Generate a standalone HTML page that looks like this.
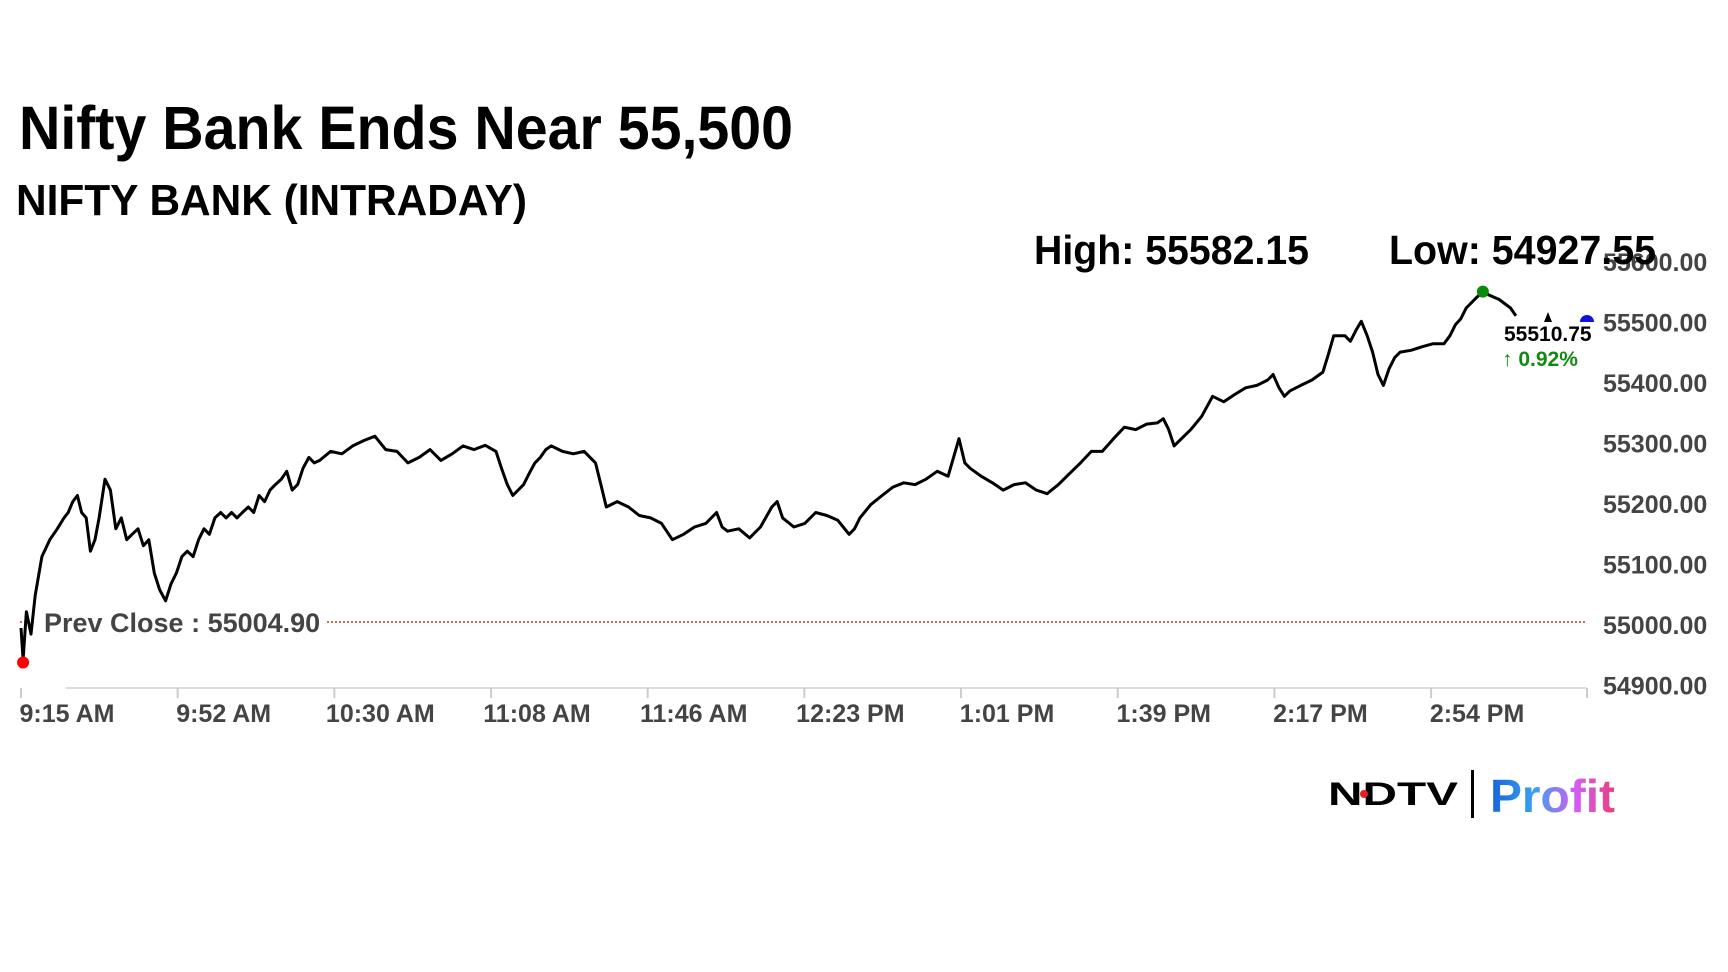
<!DOCTYPE html>
<html><head><meta charset="utf-8"><style>
html,body{margin:0;padding:0;background:#fff;}
svg{display:block;font-family:"Liberation Sans",sans-serif;}
</style></head><body>
<svg id="chart" width="1728" height="972" viewBox="0 0 1728 972">
<defs><linearGradient id="pg" x1="0" x2="1" y1="0" y2="0"><stop offset="0" stop-color="#1565d8"/><stop offset="0.35" stop-color="#3aa0f0"/><stop offset="0.7" stop-color="#d65cf0"/><stop offset="1" stop-color="#e8407a"/></linearGradient></defs>
<text x="19" y="149" font-size="61" font-weight="bold" textLength="774" lengthAdjust="spacingAndGlyphs">Nifty Bank Ends Near 55,500</text>
<text x="16" y="215" font-size="44" font-weight="bold" textLength="511" lengthAdjust="spacingAndGlyphs">NIFTY BANK (INTRADAY)</text>
<text x="1034" y="264" font-size="41" font-weight="bold" textLength="275" lengthAdjust="spacingAndGlyphs">High: 55582.15</text>
<g id="axes"></g>
<g id="plot"></g>
<text x="1389" y="264" font-size="41" font-weight="bold" textLength="267" lengthAdjust="spacingAndGlyphs">Low: 54927.55</text>
<g>
<text x="1328" y="805" font-size="32" font-weight="bold" textLength="130" lengthAdjust="spacingAndGlyphs">NDTV</text>
<circle cx="1364" cy="794" r="4" fill="#e52020"/>
<rect x="1471" y="770" width="3" height="48" fill="#000"/>
<text x="1490" y="812" font-size="46" font-weight="bold" fill="url(#pg)" textLength="125" lengthAdjust="spacingAndGlyphs">Profit</text>
</g>
</svg>
<script>
const xTickLabels = ["9:15 AM","9:52 AM","10:30 AM","11:08 AM","11:46 AM","12:23 PM","1:01 PM","1:39 PM","2:17 PM","2:54 PM"];
const yTicks = [54900,55000,55100,55200,55300,55400,55500,55600];
const minutes = [0,0.5,1.3,2.4,3.4,5.0,6.9,8.7,10.3,11.3,12.4,13.5,14.5,15.6,16.6,17.7,18.7,20.1,21.4,22.7,24.0,25.3,26.6,28.0,29.3,30.6,31.9,33.2,34.6,35.9,37.2,38.5,39.8,41.2,42.5,43.8,45.1,46.4,47.8,49.1,50.4,51.7,53.0,54.4,55.7,57.0,58.3,59.6,60.9,62.3,63.6,64.9,66.2,67.5,68.9,70.2,71.5,74.1,76.8,79.4,82.1,84.7,86.0,87.3,90.0,92.6,95.3,97.9,100.5,103.2,105.8,108.4,111.1,113.7,115.0,116.4,117.7,119.0,120.3,121.6,123.0,124.3,125.6,126.9,129.6,132.2,134.8,137.5,138.8,140.1,142.7,145.4,148.0,150.7,153.3,155.9,158.6,161.2,163.9,166.5,167.8,169.1,171.8,174.4,177.0,179.7,181.0,182.3,185.0,187.6,190.2,192.9,195.5,198.2,199.5,200.8,203.4,206.1,208.7,211.3,214.0,216.6,219.3,221.9,224.5,225.9,227.2,229.8,232.5,235.1,237.7,240.4,243.0,245.6,248.3,250.9,253.6,256.2,258.8,261.5,264.1,266.8,269.4,272.0,273.4,274.7,276.0,277.3,280.0,282.6,285.2,287.9,290.5,293.1,295.8,298.4,299.7,301.1,302.4,303.7,306.3,309.0,311.6,312.9,314.2,316.9,318.2,319.5,320.8,322.2,323.5,324.8,326.1,327.4,328.8,330.1,332.7,335.4,338.0,340.6,342.0,343.3,344.6,345.9,348.5,349.9,351.2,353.8,356.5,357.8];
const prices = [54995,54943,55022,54985,55049,55113,55141,55159,55177,55186,55204,55214,55186,55177,55122,55141,55177,55241,55223,55159,55177,55141,55150,55159,55131,55141,55086,55058,55040,55068,55086,55113,55122,55113,55141,55159,55150,55177,55186,55177,55186,55177,55186,55195,55186,55214,55204,55223,55232,55241,55254,55223,55232,55259,55277,55268,55272,55287,55283,55296,55305,55312,55301,55290,55287,55268,55277,55290,55272,55283,55296,55290,55297,55287,55259,55232,55214,55223,55232,55250,55268,55277,55290,55296,55287,55283,55287,55268,55232,55195,55204,55195,55181,55177,55168,55141,55150,55162,55168,55186,55162,55155,55159,55144,55162,55195,55204,55177,55162,55168,55186,55181,55173,55150,55159,55177,55199,55214,55228,55235,55232,55241,55254,55246,55308,55268,55259,55246,55235,55223,55232,55235,55223,55217,55232,55250,55268,55287,55287,55308,55327,55323,55332,55334,55341,55323,55296,55305,55323,55345,55378,55369,55381,55392,55396,55405,55414,55392,55378,55387,55396,55405,55418,55447,55478,55478,55469,55487,55502,55478,55451,55414,55396,55423,55442,55451,55454,55460,55465,55465,55478,55496,55506,55524,55542,55551,55546,55538,55524,55511];
const prevClose = 55004.90;
const lastPrice = 55510.75;
const changePct = 0.92;
const tickMinuteStep = 37.5;

const NS="http://www.w3.org/2000/svg";
const xScale = m => 21 + m*4.178;
const yScale = p => 625 - (p-55000)*0.605;
function mk(tag, attrs, parent){const e=document.createElementNS(NS,tag);for(const k in attrs)e.setAttribute(k,attrs[k]);parent.appendChild(e);return e;}
const axes=document.getElementById('axes'), plot=document.getElementById('plot');
let ax=mk('line',{x1:66,x2:1587,y1:688,y2:688,stroke:'#ddd','stroke-width':2},axes);


xTickLabels.forEach((l,i)=>{
  const x=xScale(i*tickMinuteStep);
  const t=mk('line',{x1:x,x2:x,y1:688,y2:698,stroke:'#ccc','stroke-width':2},axes);
  
  
  const tx=mk('text',{x:x+46,y:722,'font-size':25,'font-weight':'bold',fill:'#444','text-anchor':'middle'},axes);
  
  
  tx.textContent=l;
});
let rt=mk('line',{x1:1587,x2:1587,y1:688,y2:698,stroke:'#ccc','stroke-width':2},axes);


yTicks.forEach(v=>{
  const t=mk('text',{x:1603,y:yScale(v)+9,'font-size':25,'font-weight':'bold',fill:'#444'},axes);
  
  
  t.textContent=v.toFixed(2);
});
const py=yScale(prevClose);
let pl=mk('line',{x1:327,x2:1587,y1:py,y2:py,stroke:'#c0392b','stroke-width':1.5,'stroke-dasharray':'2,2'},axes);


let pl2=mk('line',{x1:20,x2:34,y1:py,y2:py,stroke:'#c0392b','stroke-width':1.5,'stroke-dasharray':'2,2'},axes);


let ptx=mk('text',{x:44,y:py+10,'font-size':27,'font-weight':'bold',fill:'#444'},axes);


ptx.textContent='Prev Close : '+prevClose.toFixed(2);
const d=minutes.map((m,i)=>(i?'L':'M')+xScale(m).toFixed(1)+','+yScale(prices[i]).toFixed(1)).join(' ');
let path=mk('path',{d:d,fill:'none',stroke:'#000','stroke-width':3,'stroke-linejoin':'round'},plot);


let mi=prices.indexOf(Math.min(...prices)), ma=prices.indexOf(Math.max(...prices));
let lo=mk('circle',{cx:xScale(minutes[mi]),cy:yScale(prices[mi])+3,r:6,fill:'#f00'},plot);


let hi=mk('circle',{cx:xScale(minutes[ma]),cy:yScale(prices[ma]),r:6,fill:'#0a8a0a'},plot);


let cy=yScale(lastPrice);
let bl=mk('path',{d:`M1580,${cy+6} A7,7 0 0 1 1594,${cy+6} Z`,fill:'#1010e0'},plot);


let tr=mk('path',{d:`M1544,${cy+6} L1548,${cy-4} L1552,${cy+6} Z`,fill:'#000'},plot);


let lp=mk('text',{x:1504,y:341,'font-size':21,'font-weight':'bold',fill:'#000'},plot);


lp.textContent=lastPrice.toFixed(2);
let cp=mk('text',{x:1502,y:366,'font-size':21,'font-weight':'bold',fill:'#138a13'},plot);


cp.textContent='\u2191 '+changePct.toFixed(2)+'%';
</script>
</body></html>
